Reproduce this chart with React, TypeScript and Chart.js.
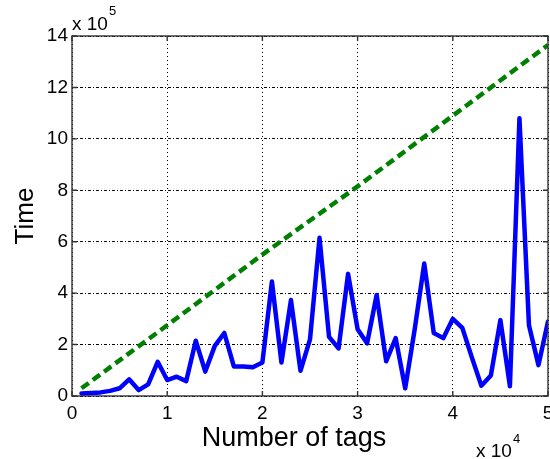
import React, { useEffect, useRef } from 'react';
import { Chart, registerables } from 'chart.js';

Chart.register(...registerables);

// Number of tags (x) for the measured series
const tagCounts = [
  1000, 2000, 3000, 4000, 5000, 6000, 7000, 8000, 9000, 10000,
  11000, 12000, 13000, 14000, 15000, 16000, 17000, 18000, 19000, 20000,
  21000, 22000, 23000, 24000, 25000, 26000, 27000, 28000, 29000, 30000,
  31000, 32000, 33000, 34000, 35000, 36000, 37000, 38000, 39000, 40000,
  41000, 42000, 43000, 44000, 45000, 46000, 47000, 48000, 49000, 50000,
];
// Measured time, in units of 10^5
const measuredTime = [
  0.1, 0.12, 0.14, 0.2, 0.3, 0.65, 0.23, 0.45, 1.33, 0.62,
  0.75, 0.58, 2.15, 0.95, 1.95, 2.45, 1.15, 1.15, 1.12, 1.3,
  4.45, 1.3, 3.73, 0.98, 2.2, 6.15, 2.3, 1.85, 4.75, 2.6,
  2.05, 3.93, 1.35, 2.25, 0.3, 2.6, 5.15, 2.45, 2.25, 3.0,
  2.65, 1.5, 0.4, 0.8, 2.95, 0.38, 10.8, 2.75, 1.2, 2.9,
];
// Reference (linear) series
const linearTagCounts = [1000, 10000, 20000, 30000, 40000, 50000];
const linearTime = [0.3, 2.75, 5.5, 8.15, 10.9, 13.65];

// Axis ticks
const xTickLabels = [0, 1, 2, 3, 4, 5]; // × 10^4
const yTickLabels = [0, 2, 4, 6, 8, 10, 12, 14]; // × 10^5
const xExponent = '4';
const yExponent = '5';
const xTitle = 'Number of tags';
const yTitle = 'Time';

const FONT = '"Liberation Sans", Arial, Helvetica, sans-serif';

const framePlugin = {
  id: 'matlabFrame',
  afterDatasetsDraw(chart: any) {
    const { ctx, chartArea: a, scales } = chart;
    const xs = scales.x;
    const ys = scales.y;
    ctx.save();
    ctx.strokeStyle = '#333';
    ctx.lineWidth = 1.4;
    ctx.setLineDash([]);
    ctx.strokeRect(a.left, a.top, a.right - a.left, a.bottom - a.top);
    const tl = 5;
    ctx.beginPath();
    xTickLabels.forEach((t) => {
      const px = xs.getPixelForValue(t * 10000);
      ctx.moveTo(px, a.bottom);
      ctx.lineTo(px, a.bottom - tl);
      ctx.moveTo(px, a.top);
      ctx.lineTo(px, a.top + tl);
    });
    yTickLabels.forEach((t) => {
      const py = ys.getPixelForValue(t);
      ctx.moveTo(a.left, py);
      ctx.lineTo(a.left + tl, py);
      ctx.moveTo(a.right, py);
      ctx.lineTo(a.right - tl, py);
    });
    ctx.stroke();
    ctx.restore();
  },
  afterDraw(chart: any) {
    const { ctx, chartArea: a } = chart;
    ctx.save();
    ctx.fillStyle = '#000';
    ctx.textBaseline = 'alphabetic';
    ctx.textAlign = 'left';
    // y exponent
    ctx.font = `19px ${FONT}`;
    ctx.fillText('x 10', a.left, a.top - 6);
    let w = ctx.measureText('x 10').width;
    ctx.font = `13px ${FONT}`;
    ctx.fillText(yExponent, a.left + w + 1, a.top - 21);
    // x exponent
    ctx.font = `19px ${FONT}`;
    ctx.fillText('x 10', a.right - 72, a.bottom + 61);
    w = ctx.measureText('x 10').width;
    ctx.font = `13px ${FONT}`;
    ctx.fillText(xExponent, a.right - 72 + w + 1, a.bottom + 47);
    // x title
    ctx.font = `27px ${FONT}`;
    ctx.textAlign = 'center';
    ctx.fillText(xTitle, a.left + 222, a.bottom + 50);
    // y title
    ctx.translate(33, (a.top + a.bottom) / 2);
    ctx.rotate(-Math.PI / 2);
    ctx.font = `26px ${FONT}`;
    ctx.fillText(yTitle, 0, 0);
    ctx.restore();
  },
};

export default function App() {
  const ref = useRef<HTMLCanvasElement | null>(null);

  useEffect(() => {
    if (!ref.current) return;
    const chart = new Chart(ref.current, {
      type: 'line',
      data: {
        datasets: [
          {
            label: 'Measured',
            data: tagCounts.map((x, i) => ({ x, y: measuredTime[i] })),
            borderColor: '#0000ff',
            borderWidth: 4.5,
            borderJoinStyle: 'round',
            borderCapStyle: 'round',
            pointRadius: 0,
            tension: 0,
            fill: false,
            order: 2,
          },
          {
            label: 'Linear',
            data: linearTagCounts.map((x, i) => ({ x, y: linearTime[i] })),
            borderColor: '#008000',
            borderWidth: 4.5,
            borderDash: [9, 5],
            pointRadius: 0,
            tension: 0,
            fill: false,
            order: 1,
          },
        ],
      },
      options: {
        responsive: false,
        animation: false,
        devicePixelRatio: 1,
        layout: { padding: { top: 36, right: 2, left: 0, bottom: 0 } },
        plugins: {
          legend: { display: false },
          tooltip: { enabled: false },
        },
        scales: {
          x: {
            type: 'linear',
            min: 0,
            max: 50000,
            afterBuildTicks: (s: any) => {
              s.ticks = xTickLabels.map((v) => ({ value: v * 10000 }));
            },
            afterFit: (s: any) => {
              s.height = 63;
              s.paddingLeft = 0;
              s.paddingRight = 0;
            },
            ticks: {
              callback: (v: any) => String(Number(v) / 10000),
              color: '#000',
              font: { family: FONT, size: 19 },
              padding: 6,
              maxRotation: 0,
              autoSkip: false,
            },
            grid: {
              color: '#000',
              lineWidth: 1,
              drawTicks: false,
            },
            border: { display: false, dash: [1, 3] },
          },
          y: {
            type: 'linear',
            min: 0,
            max: 14,
            afterBuildTicks: (s: any) => {
              s.ticks = yTickLabels.map((v) => ({ value: v }));
            },
            afterFit: (s: any) => {
              s.width = 72;
              s.paddingTop = 0;
              s.paddingBottom = 0;
            },
            ticks: {
              color: '#000',
              font: { family: FONT, size: 19 },
              padding: 4,
              autoSkip: false,
            },
            grid: {
              color: '#000',
              lineWidth: 1,
              drawTicks: false,
            },
            border: { display: false, dash: [3, 2, 1, 2] },
          },
        },
      },
      plugins: [framePlugin],
    });
    return () => chart.destroy();
  }, []);

  return (
    <div style={{ position: 'absolute', left: 0, top: 0, width: 550, height: 459, background: '#fff' }}>
      <canvas ref={ref} width={550} height={459} style={{ display: 'block', width: 550, height: 459 }} />
    </div>
  );
}
